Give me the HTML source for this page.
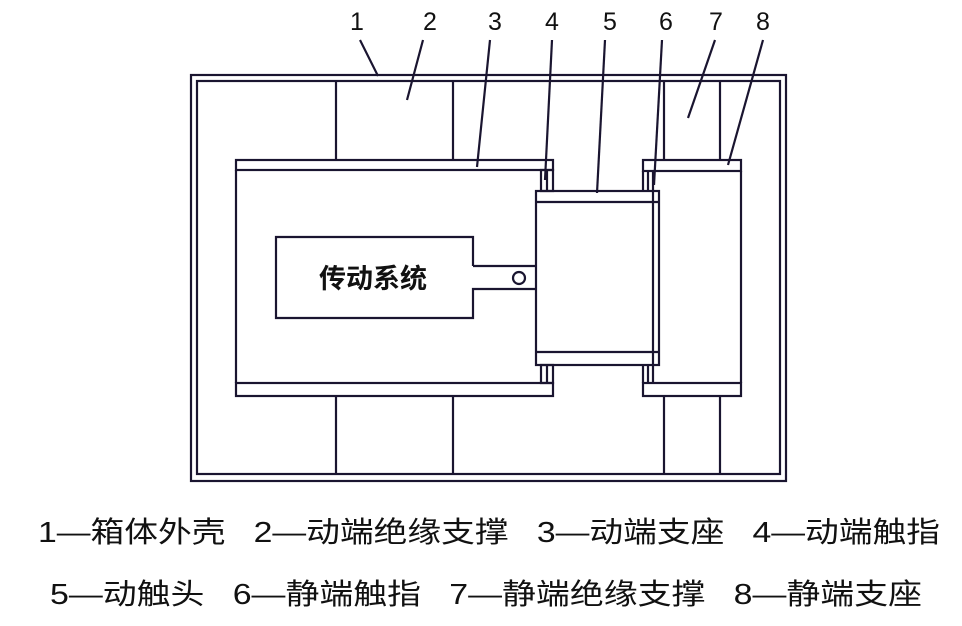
<!DOCTYPE html>
<html><head><meta charset="utf-8"><style>
html,body{margin:0;padding:0;background:#fff;}
svg{display:block;}
text{font-family:"Liberation Sans","Noto Sans CJK SC",sans-serif;fill:#111;}
</style></head><body>
<svg width="962" height="626" viewBox="0 0 962 626" xmlns="http://www.w3.org/2000/svg">
<g fill="none" stroke="#1a1530" stroke-width="2.2">
<rect x="191" y="75" width="595" height="406"/>
<rect x="197" y="81" width="583" height="393"/>
<line x1="336" y1="81" x2="336" y2="160"/><line x1="453" y1="81" x2="453" y2="160"/>
<line x1="336" y1="396" x2="336" y2="474"/><line x1="453" y1="396" x2="453" y2="474"/>
<line x1="664" y1="81" x2="664" y2="160"/><line x1="720" y1="81" x2="720" y2="160"/>
<line x1="664" y1="396" x2="664" y2="474"/><line x1="720" y1="396" x2="720" y2="474"/>
<rect x="236" y="160" width="317" height="10"/>
<rect x="236" y="383" width="317" height="13"/>
<line x1="236" y1="170" x2="236" y2="383"/>
<rect x="541" y="170" width="12" height="21"/><line x1="547" y1="170" x2="547" y2="191"/>
<rect x="541" y="365" width="12" height="18"/><line x1="547" y1="365" x2="547" y2="383"/>
<rect x="536" y="191" width="123" height="174"/>
<line x1="536" y1="202" x2="659" y2="202"/><line x1="536" y1="352" x2="659" y2="352"/>
<rect x="643" y="160" width="98" height="11"/>
<rect x="643" y="383" width="98" height="13"/>
<line x1="653" y1="171" x2="653" y2="383"/><line x1="741" y1="171" x2="741" y2="383"/>
<line x1="643" y1="171" x2="643" y2="191"/><line x1="648" y1="171" x2="648" y2="191"/>
<line x1="643" y1="365" x2="643" y2="383"/><line x1="648" y1="365" x2="648" y2="383"/>
<polyline points="473,266 473,237 276,237 276,318 473,318 473,289 536,289"/>
<line x1="473" y1="266" x2="536" y2="266"/>
<circle cx="519" cy="278" r="6"/>
<line x1="360" y1="40" x2="378" y2="76"/>
<line x1="423" y1="40" x2="407" y2="100"/>
<line x1="490" y1="40" x2="477" y2="167"/>
<line x1="552" y1="40" x2="545" y2="180"/>
<line x1="605" y1="40" x2="597" y2="193"/>
<line x1="662" y1="40" x2="654" y2="185"/>
<line x1="715" y1="40" x2="688" y2="118"/>
<line x1="763" y1="40" x2="728" y2="165"/>
</g>
<g font-size="25" font-family="'Liberation Sans',sans-serif">
<text x="350" y="30">1</text><text x="423" y="30">2</text><text x="488" y="30">3</text><text x="545" y="30">4</text>
<text x="603" y="30">5</text><text x="659" y="30">6</text><text x="709" y="30">7</text><text x="756" y="30">8</text>
</g>
<text x="319" y="288" font-size="27" font-weight="bold">传动系统</text>
<text x="38" y="542" font-size="29" textLength="902" lengthAdjust="spacingAndGlyphs" xml:space="preserve">1—箱体外壳   2—动端绝缘支撑   3—动端支座   4—动端触指</text>
<text x="50" y="604" font-size="29" textLength="872" lengthAdjust="spacingAndGlyphs" xml:space="preserve">5—动触头   6—静端触指   7—静端绝缘支撑   8—静端支座</text>
</svg>
</body></html>
